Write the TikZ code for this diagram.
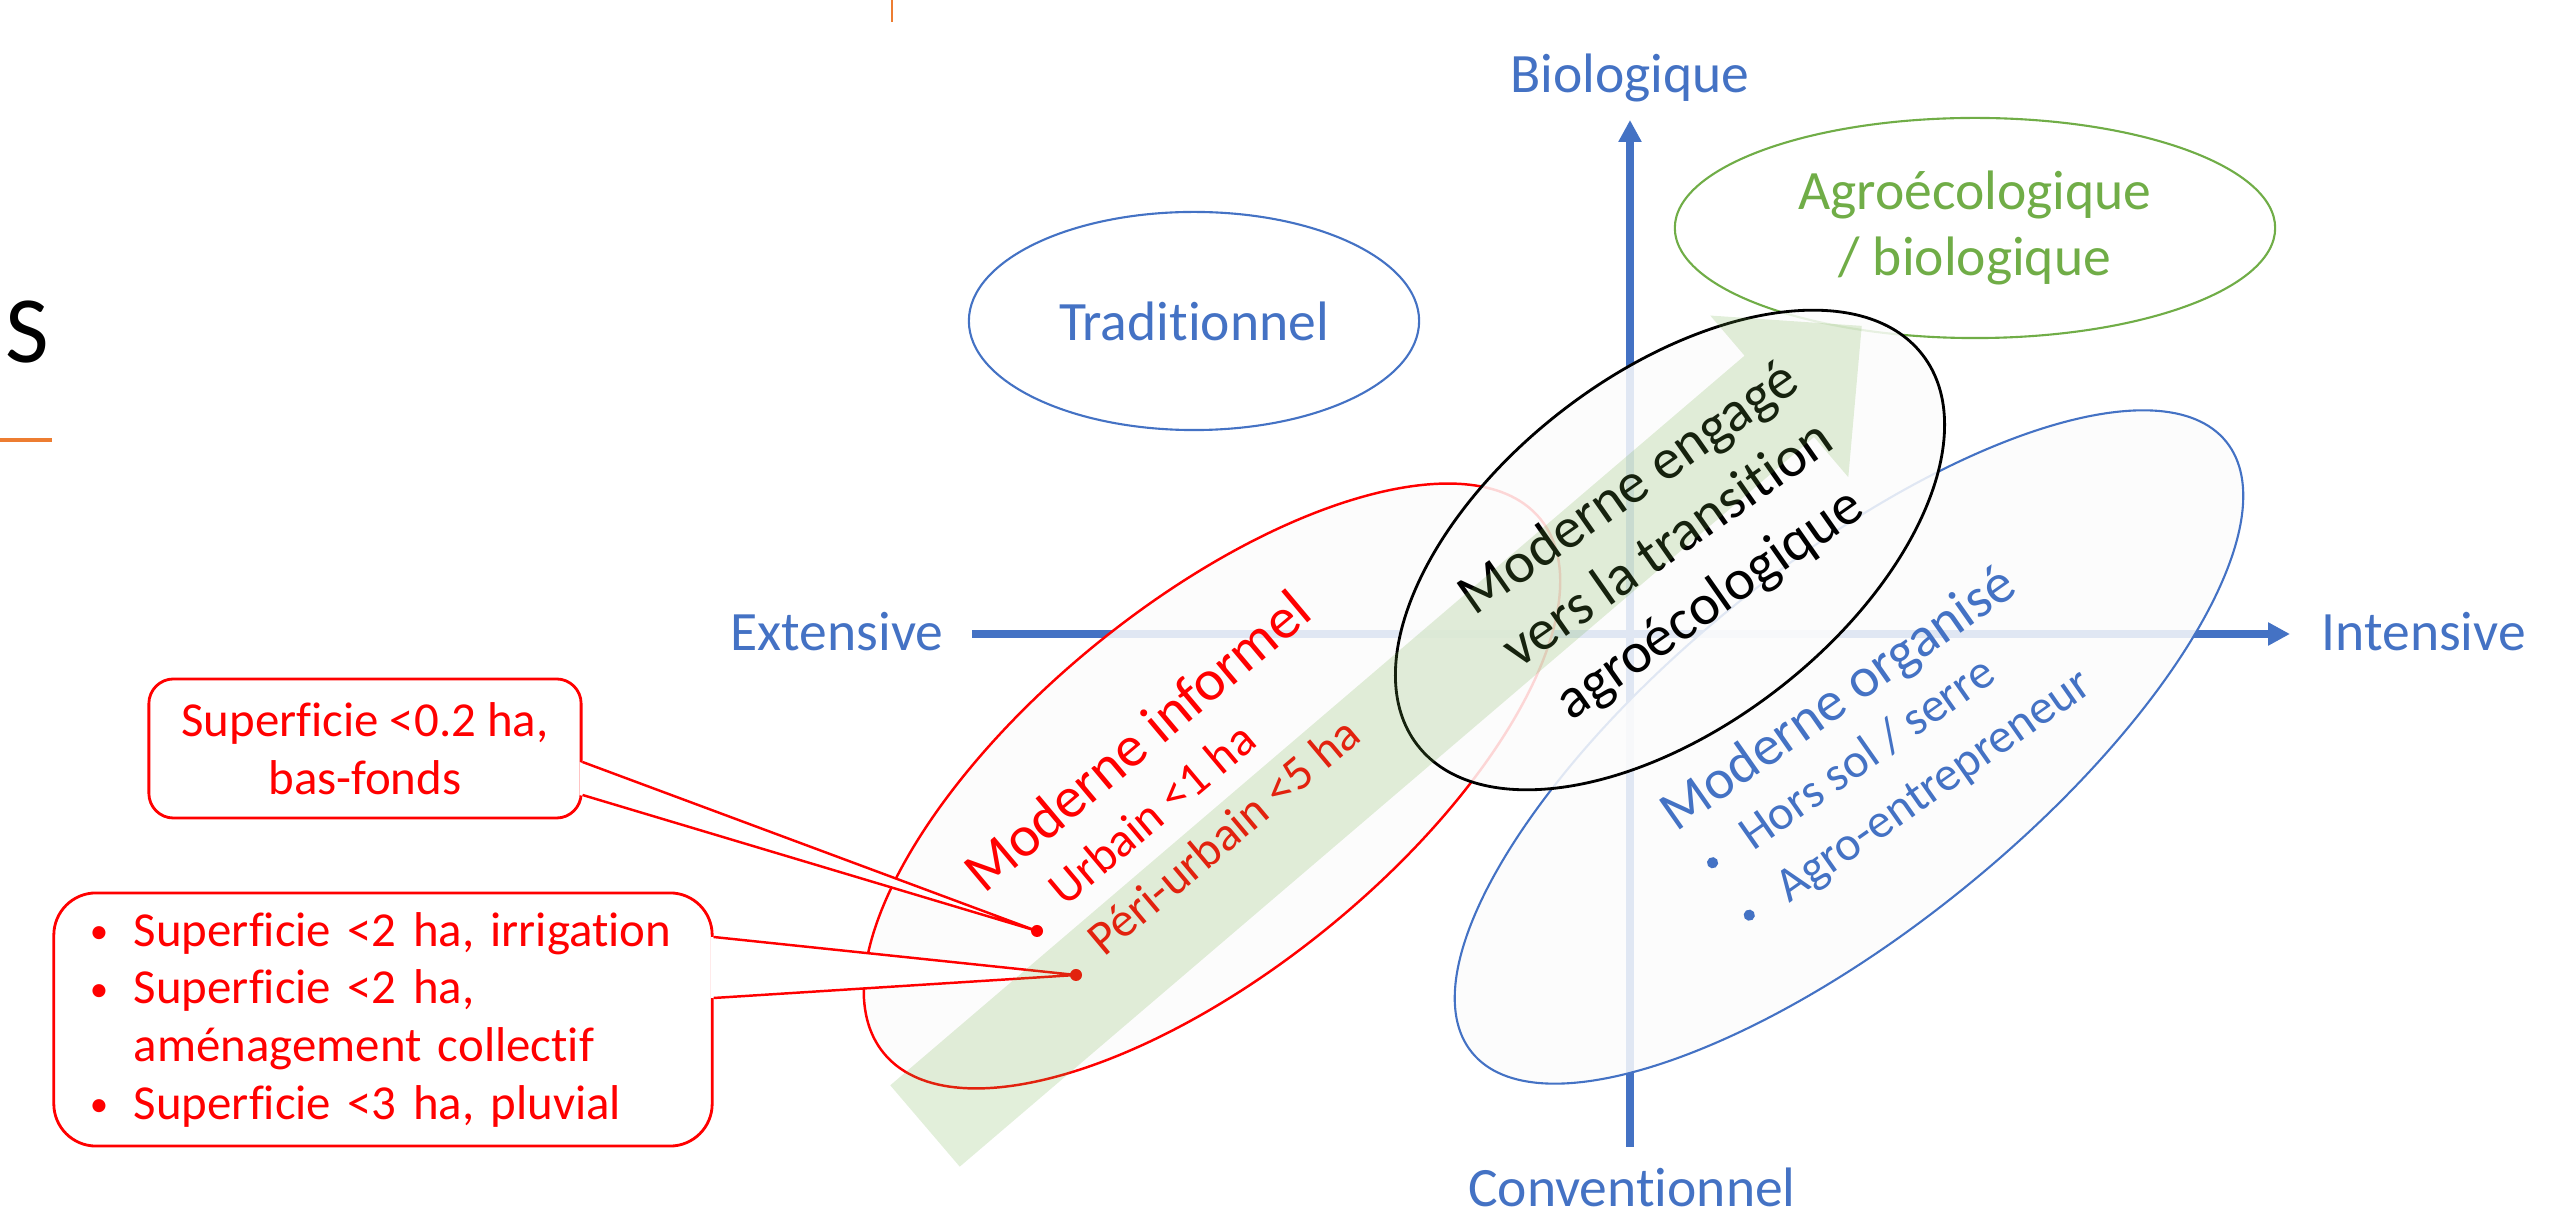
\documentclass[tikz,border=0pt]{standalone}
\usepackage{fontspec}
\setmainfont{Carlito}[Ligatures=NoCommon]
\usetikzlibrary{arrows.meta,shapes.geometric,calc}
\definecolor{axisblue}{HTML}{4472C4}
\definecolor{agrogreen}{HTML}{70AD47}
\definecolor{slideorange}{HTML}{ED7D31}
\definecolor{zonefill}{HTML}{FCFCFC}
\newcommand{\puce}{\makebox[0.44cm][l]{\raisebox{0.6pt}{\fontsize{10.5}{10.5}\selectfont\textbullet}}}

\begin{document}
\frenchspacing
\begin{tikzpicture}[x=0.01cm,y=-0.01cm,
  axisline/.style={axisblue,line width=2pt,-{Triangle[width=6.2pt,length=6.2pt]}},
  lbl/.style={text=axisblue,inner sep=0,font=\fontsize{15.8}{18.5}\selectfont},
  zone/.style={ellipse,inner sep=0,line width=0.6pt},
  veil/.style={fill=zonefill,fill opacity=0.85},
  bigtxt/.style={inner sep=0,font=\fontsize{16}{19.5}\selectfont},
  subtxt/.style={inner sep=0,font=\fontsize{13.8}{16.5}\selectfont},
  calloutbox/.style={draw=red,fill=white,text=red,line width=0.8pt,inner sep=0,font=\fontsize{13.9}{16.4}\selectfont},
  lead/.style={red,line width=0.7pt},
  spot/.style={circle,fill=red,inner sep=0,minimum size=0.12cm}]
\useasboundingbox (0,0) rectangle (2571,1216);

% Slide remnants
\node[anchor=base west,inner sep=0,font=\fontsize{27}{32}\selectfont] (titreS) at (5,363) {S};
\draw[slideorange,line width=1.1pt] (0,440) -- (52,440);
\draw[slideorange,line width=0.6pt] (892,0) -- (892,22);

% Axes
\coordinate (xlo) at (972,634);
\coordinate (xhi) at (2290,634);
\coordinate (ylo) at (1630,1147);
\coordinate (yhi) at (1630,120);
\draw[axisline] (xlo) -- (xhi);
\draw[axisline] (ylo) -- (yhi);
\node[lbl,anchor=base] (bio) at (1630,93) {Biologique};
\node[lbl,anchor=base east] (ext) at (944,651) {Extensive};
\node[lbl,anchor=base west] (inten) at (2321,651) {Intensive};
\node[lbl,anchor=base] (conv) at (1632,1207) {Conventionnel};

% Upper zones
\node[zone,lbl,draw=axisblue,fill=white,minimum width=4.5cm,minimum height=2.18cm] (trad) at (1194,321) {Traditionnel};
\node[zone,lbl,draw=agrogreen,text=agrogreen,fill=white,align=center,minimum width=6cm,minimum height=2.2cm] (agro) at (1975,228) {Agroécologique\\/ biologique};

% Moderne informel
\node[zone,veil,draw=red,line width=0.7pt,minimum width=8.46cm,minimum height=3.66cm,rotate=39.1] (informel) at (1212,786) {};
\begin{scope}[rotate=40,transform shape]
\node[bigtxt,text=red,anchor=base west,font=\fontsize{16.5}{20}\selectfont] (inf1) at (178,1318) {Moderne informel};
\node[subtxt,text=red,anchor=base west] (inf2) at (232,1380) {Urbain <1 ha};
\node[subtxt,text=red,anchor=base west] (inf3) at (230,1443) {Péri-urbain <5 ha};
\end{scope}

% Moderne organise
\node[zone,veil,draw=axisblue,minimum width=9.7cm,minimum height=3.64cm,rotate=39] (organise) at (1849,747) {};
\begin{scope}[rotate=35,transform shape]
\node[bigtxt,text=axisblue,anchor=base west] (org1) at (895,1643) {Moderne organisé};
\node[subtxt,text=axisblue,anchor=base west] (org2) at (947,1703) {Hors sol / serre};
\node[subtxt,text=axisblue,anchor=base west] (org3) at (947,1767) {Agro-entrepreneur};
\fill[axisblue] (908,1689) circle (1.6pt) (908,1753) circle (1.6pt);
\end{scope}

% Transition
\node[zone,veil,draw=black,line width=0.8pt,minimum width=6.38cm,minimum height=3.52cm,rotate=37.7] (transition) at (1670,550) {};
\begin{scope}[rotate=35,transform shape]
\node[bigtxt,anchor=base,font=\fontsize{16.4}{20}\selectfont] (tr1) at (1054,1351) {Moderne engagé};
\node[bigtxt,anchor=base,font=\fontsize{16.4}{20}\selectfont] (tr2) at (1054,1420) {vers la transition};
\node[bigtxt,anchor=base,font=\fontsize{16.4}{20}\selectfont] (tr3) at (1054,1492) {agroécologique};
\end{scope}

% Callouts
\node[calloutbox,rounded corners=7pt,minimum width=4.32cm,minimum height=1.39cm,align=center] (cbas) at (365,748.5) {Superficie <0.2 ha,\\bas-fonds};
\node[calloutbox,rounded corners=12pt,minimum height=2.53cm,text width=5.86cm,inner xsep=0.36cm,align=left] (cirr) at (383,1019.5)
  {\puce Superficie <2 ha, irrigation\\
   \puce Superficie <2 ha,\\
   \hspace*{0.44cm}aménagement collectif\\
   \puce Superficie <3 ha, pluvial};
\coordinate (cbas1) at ($(cbas.east)+(0,13.5)$);
\coordinate (cbas2) at ($(cbas.east)+(0,46.5)$);
\coordinate (cirr1) at ($(cirr.east)+(0,-82.5)$);
\coordinate (cirr2) at ($(cirr.east)+(0,-21.5)$);
\coordinate (pbas) at (1037,931);
\coordinate (pirr) at (1076,975);
\fill[white] ($(cbas1)+(-3,0)$) -- (pbas) -- ($(cbas2)+(-3,0)$) -- cycle;
\draw[lead] (cbas1) -- (pbas) -- (cbas2);
\fill[white] ($(cirr1)+(-3,0)$) -- (pirr) -- ($(cirr2)+(-3,0)$) -- cycle;
\draw[lead] (cirr1) -- (pirr) -- (cirr2);
\node[spot] (dbas) at (pbas) {};
\node[spot] (dirr) at (pirr) {};

% Transition arrow
\begin{scope}[shift={(925,1126)},rotate=40.5]
\fill[agrogreen,fill opacity=0.2] (0,-53.5) -- (1123.5,-53.5) -- (1123.5,-106.3) -- (1232,0)
  -- (1123.5,106.3) -- (1123.5,53.5) -- (0,53.5) -- cycle;
\end{scope}

\end{tikzpicture}
\end{document}
